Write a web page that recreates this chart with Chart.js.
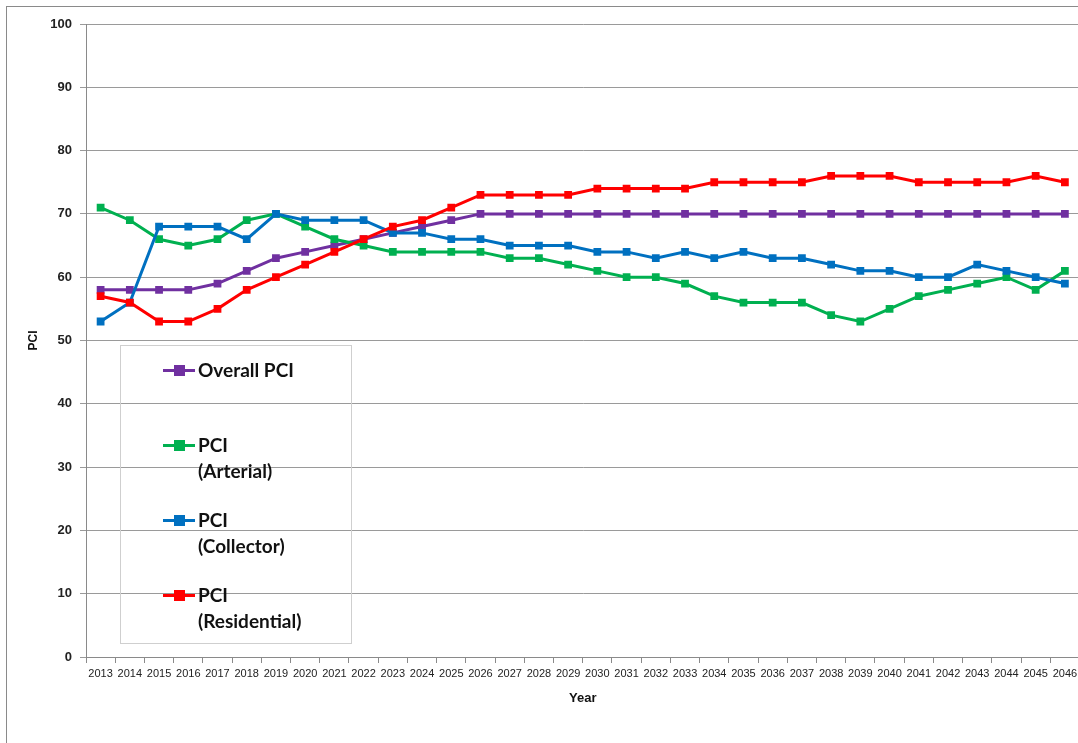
<!DOCTYPE html>
<html>
<head>
<meta charset="utf-8">
<script src="https://cdn.jsdelivr.net/npm/chart.js@4"></script>
<style>
  html, body { margin: 0; padding: 0; background: #fff; }
  #wrap { position: relative; width: 1078px; height: 743px; overflow: hidden; }
  #frame { position: absolute; left: 6px; top: 6px; width: 1200px; height: 900px;
           border-left: 1px solid #8a8a8a; border-top: 1px solid #8a8a8a; }
  canvas { position: absolute; left: 0; top: 0; }
  #legend { position: absolute; left: 120px; top: 345px; width: 230px; height: 297px;
            border: 1px solid #cfcfcf; font-family: Lato, "Liberation Sans", sans-serif;
            font-weight: bold; font-size: 19px; color: #111; }
  .item { position: absolute; left: 42px; line-height: 26px; }
  .mark { position: absolute; left: 0; top: 12px; width: 32px; height: 3px; }
  .mark i { position: absolute; left: 11px; top: -4px; width: 11px; height: 11px; }
  .txt { position: absolute; left: 35px; top: 0; white-space: nowrap; }
</style>
</head>
<body>
<div id="wrap">
  <div id="frame"></div>
  <canvas id="chart" width="1085" height="743"></canvas>
  <div id="legend"></div>
</div>
<script>
const years = [];
for (let y = 2013; y <= 2046; y++) years.push(String(y));

const overall = [58,58,58,58,59,61,63,64,65,66,67,68,69,70,70,70,70,70,70,70,70,70,70,70,70,70,70,70,70,70,70,70,70,70];
const arterial = [71,69,66,65,66,69,70,68,66,65,64,64,64,64,63,63,62,61,60,60,59,57,56,56,56,54,53,55,57,58,59,60,58,61];
const collector = [53,56,68,68,68,66,70,69,69,69,67,67,66,66,65,65,65,64,64,63,64,63,64,63,63,62,61,61,60,60,62,61,60,59];
const residential = [57,56,53,53,55,58,60,62,64,66,68,69,71,73,73,73,73,74,74,74,74,75,75,75,75,76,76,76,75,75,75,75,76,75];

const seriesNames = ["Overall PCI", ["PCI", "(Arterial)"], ["PCI", "(Collector)"], ["PCI", "(Residential)"]];
const colors = ["#7030A0", "#00B050", "#0070C0", "#FF0000"];
const legendTops = [11, 86, 161, 236];

function ds(data, i) {
  return {
    label: Array.isArray(seriesNames[i]) ? seriesNames[i].join(" ") : seriesNames[i],
    data: data,
    borderColor: colors[i],
    backgroundColor: colors[i],
    borderWidth: 3,
    pointStyle: "rect",
    pointRadius: 5.5,
    pointBorderWidth: 0,
    tension: 0,
    order: 4 - i
  };
}

new Chart(document.getElementById("chart"), {
  type: "line",
  data: {
    labels: years,
    datasets: [ds(overall, 0), ds(arterial, 1), ds(collector, 2), ds(residential, 3)]
  },
  options: {
    responsive: false,
    animation: false,
    layout: { padding: { top: 24, right: 0, bottom: 0, left: 0 } },
    plugins: { legend: { display: false }, tooltip: { enabled: false } },
    scales: {
      x: {
        offset: true,
        border: { color: "#8a8a8a", width: 1 },
        grid: { display: true, drawOnChartArea: false, drawTicks: true, tickLength: 6, offset: true, color: "#8a8a8a" },
        ticks: { autoSkip: false, maxRotation: 0, minRotation: 0, padding: 4, color: "#222",
                 font: { family: "'Liberation Sans Narrow', 'Liberation Sans', sans-serif", size: 11 } },
        title: { display: true, text: "Year", color: "#111", padding: { top: 0, bottom: 37 },
                 font: { family: "'Liberation Sans', sans-serif", size: 13, weight: "bold" } },
        afterFit(scale) { scale.height = 86; }
      },
      y: {
        min: 0, max: 100,
        border: { color: "#8a8a8a", width: 1 },
        grid: { color: "#9a9a9a", tickLength: 6, lineWidth: 1 },
        ticks: { stepSize: 10, padding: 8, color: "#222",
                 font: { family: "'Liberation Sans', sans-serif", size: 13, weight: "bold" } },
        title: { display: true, text: "PCI", color: "#111", padding: { top: 26, bottom: 0 },
                 font: { family: "'Liberation Sans', sans-serif", size: 12, weight: "bold" } },
        afterFit(scale) { scale.width = 86; }
      }
    }
  }
});

// legend with transparent background, like the original
const legend = document.getElementById("legend");
seriesNames.forEach((name, i) => {
  const item = document.createElement("div");
  item.className = "item";
  item.style.top = legendTops[i] + "px";
  const mark = document.createElement("div");
  mark.className = "mark";
  mark.style.background = colors[i];
  const sq = document.createElement("i");
  sq.style.background = colors[i];
  mark.appendChild(sq);
  const txt = document.createElement("div");
  txt.className = "txt";
  txt.innerHTML = (Array.isArray(name) ? name : [name]).join("<br>");
  item.appendChild(mark);
  item.appendChild(txt);
  legend.appendChild(item);
});
</script>
</body>
</html>
